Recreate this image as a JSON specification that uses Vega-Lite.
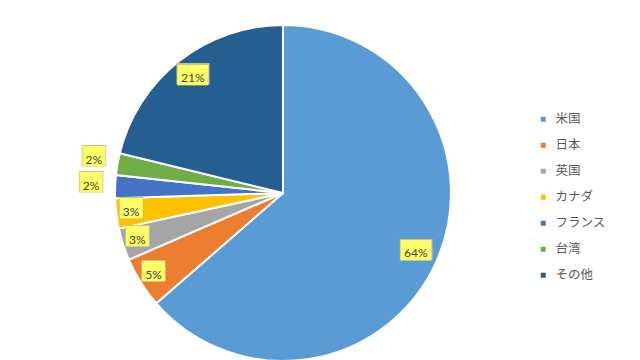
{
  "$schema": "https://vega.github.io/schema/vega-lite/v6.json",
  "autosize": {"type": "none"},
  "width": 498,
  "height": 386,
  "padding": {"left": 34, "top": 0, "right": 108, "bottom": 0},
  "background": "white",
  "config": {
    "view": {"stroke": "#D9D9D9", "strokeWidth": 1, "strokeDash": [0, 1382, 386]}
  },
  "data": {
    "values": [
      {"country": "米国", "value": 63.6, "label": "64%", "i": 1},
      {"country": "日本", "value": 4.9, "label": "5%", "i": 2},
      {"country": "英国", "value": 3.1, "label": "3%", "i": 3},
      {"country": "カナダ", "value": 2.9, "label": "3%", "i": 4},
      {"country": "フランス", "value": 2.2, "label": "2%", "i": 5},
      {"country": "台湾", "value": 2.1, "label": "2%", "i": 6},
      {"country": "その他", "value": 21.2, "label": "21%", "i": 7}
    ]
  },
  "transform": [
    {"calculate": "length(datum.label) > 2 ? '▐██▌' : '▕██▏'", "as": "bx"}
  ],
  "encoding": {
    "theta": {"field": "value", "type": "quantitative", "stack": true},
    "order": {"field": "i", "type": "quantitative"}
  },
  "layer": [
    {
      "mark": {"type": "arc", "outerRadius": 168, "stroke": "white", "strokeWidth": 2},
      "encoding": {
        "color": {
          "field": "country",
          "type": "nominal",
          "scale": {
            "domain": ["米国", "日本", "英国", "カナダ", "フランス", "台湾", "その他"],
            "range": ["#5B9BD5", "#ED7D31", "#A5A5A5", "#FFC000", "#4472C4", "#70AD47", "#255E91"]
          },
          "sort": null,
          "legend": {
            "title": null,
            "orient": "none",
            "legendX": 503,
            "legendY": 113,
            "symbolType": "square",
            "symbolSize": 25,
            "symbolStrokeWidth": 0,
            "labelFont": "Noto Sans CJK JP",
            "labelFontSize": 12.5,
            "labelColor": "#595959",
            "labelOffset": 6,
            "rowPadding": 13,
            "padding": 0
          }
        }
      }
    },
    {
      "mark": {
        "type": "text", "font": "DejaVu Sans Mono", "fontSize": 18, "align": "center", "baseline": "middle", "color": "#C4C48A", "dy": -2.8,
        "radius": {"expr": "(datum.i == 1 || datum.i == 7) ? 146 : ((datum.i == 5 || datum.i == 6) ? 192 : 153)"}
      },
      "encoding": {"text": {"field": "bx"}}
    },
    {
      "mark": {
        "type": "text", "font": "DejaVu Sans Mono", "fontSize": 17, "align": "center", "baseline": "middle", "color": "#FFFF66", "dy": -2.7,
        "radius": {"expr": "(datum.i == 1 || datum.i == 7) ? 146 : ((datum.i == 5 || datum.i == 6) ? 192 : 153)"}
      },
      "encoding": {"text": {"field": "bx"}}
    },
    {
      "mark": {
        "type": "text", "font": "Lato", "fontSize": 12, "align": "center", "baseline": "middle", "color": "#404040",
        "radius": {"expr": "(datum.i == 1 || datum.i == 7) ? 146 : ((datum.i == 5 || datum.i == 6) ? 192 : 153)"}
      },
      "encoding": {"text": {"field": "label"}}
    }
  ]
}
